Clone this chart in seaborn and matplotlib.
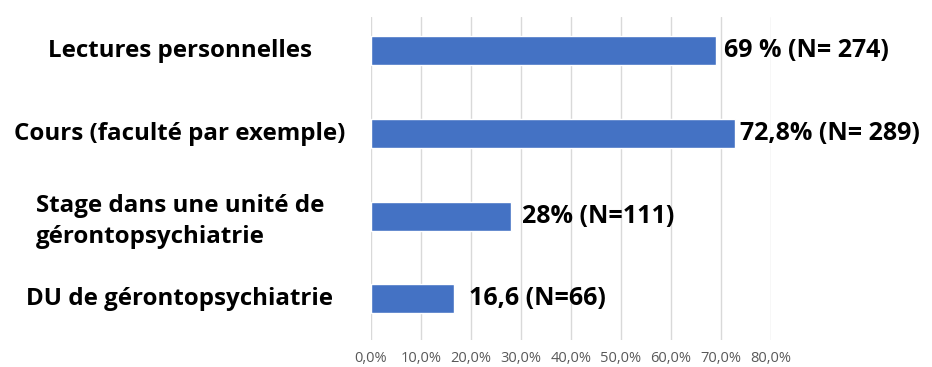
import matplotlib
matplotlib.use("Agg")
import matplotlib.pyplot as plt
import seaborn as sns
import pandas as pd

categories = [
    "Lectures personnelles",
    "Cours (faculté par exemple)",
    "Stage dans une unité de\ngérontopsychiatrie",
    "DU de gérontopsychiatrie",
]
values = [69.0, 72.8, 28.0, 16.6]
value_labels = ["69 % (N= 274)", "72,8% (N= 289)", "28% (N=111)", "16,6 (N=66)"]
tick_values = [0, 10, 20, 30, 40, 50, 60, 70, 80]
tick_labels = ["0,0%", "10,0%", "20,0%", "30,0%", "40,0%", "50,0%", "60,0%", "70,0%", "80,0%"]

# horizontal gap between each bar end and its label, in points
label_gaps = [6, 4, 8, 11]

sns.set_theme(style="white")
plt.rcParams["font.family"] = ["Open Sans", "DejaVu Sans"]

df = pd.DataFrame({"cat": categories, "val": values})

fig = plt.figure(figsize=(9.32, 3.67), dpi=100)
ax = fig.add_axes([0.398, 0.074, 0.429, 0.880])

sns.barplot(data=df, x="val", y="cat", orient="h", color="#4472C4",
            saturation=1, width=0.35, ax=ax)

ax.set_xlim(0, 80)
ax.set_ylim(3.496, -0.411)
ax.set_xticks(tick_values)
ax.set_xticklabels(tick_labels, fontsize=10.5, color="#595959")
ax.tick_params(axis="x", length=0, pad=8)
ax.set_yticks([])
ax.set_xlabel("")
ax.set_ylabel("")
ax.xaxis.grid(True, color="#d9d9d9", linewidth=1)
ax.set_axisbelow(True)
for s in ax.spines.values():
    s.set_visible(False)

# value annotations
for i, (v, lab) in enumerate(zip(values, value_labels)):
    ax.annotate(lab, xy=(v, i), xytext=(label_gaps[i], 0), textcoords="offset points",
                ha="left", va="center", fontsize=18, fontweight="bold",
                color="#000000", annotation_clip=False)

# category labels, centred in the left margin
trans = ax.get_yaxis_transform()
x_cat = (180 / 932 - 0.398) / 0.429
for i, c in enumerate(categories):
    ax.text(x_cat, i + (0.06 if "\n" in c else 0), c, transform=trans,
            ha="center", va="center", multialignment="left", fontsize=17.4,
            fontweight="bold", color="#000000", linespacing=1.4)

fig.savefig("out.png", dpi=100)
